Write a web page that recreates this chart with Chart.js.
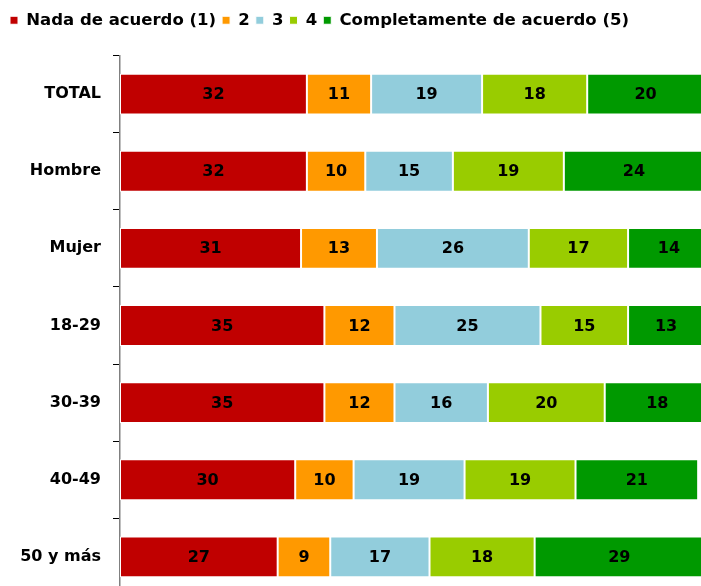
<!DOCTYPE html>
<html>
<head>
<meta charset="utf-8">
<script src="https://cdn.jsdelivr.net/npm/chart.js@4/dist/chart.umd.min.js"></script>
<style>
  html, body { margin: 0; padding: 0; overflow: hidden; background: #ffffff; }
  canvas { display: block; }
</style>
</head>
<body>
<canvas id="c" width="710" height="617" style="width:710px;height:617px;"></canvas>
<script>
const categories = ["TOTAL", "Hombre", "Mujer", "18-29", "30-39", "40-49", "50 y más"];
const seriesNames = ["Nada de acuerdo (1)", "2", "3", "4", "Completamente de acuerdo (5)"];
const nada = [32, 32, 31, 35, 35, 30, 27];
const dos = [11, 10, 13, 12, 12, 10, 9];
const tres = [19, 15, 26, 25, 16, 19, 17];
const cuatro = [18, 19, 17, 15, 20, 19, 18];
const completamente = [20, 24, 14, 13, 18, 21, 29];
const colors = ["#C00000", "#FF9900", "#92CDDC", "#99CC00", "#009900"];

const FONT = "'DejaVu Sans', Verdana, sans-serif";
const seriesValues = [nada, dos, tres, cuatro, completamente];

const labelPlugin = {
  id: 'barLabels',
  afterDatasetsDraw(chart) {
    const ctx = chart.ctx;
    ctx.save();
    ctx.font = "bold 16px " + FONT;
    ctx.fillStyle = "#000000";
    ctx.textAlign = "center";
    ctx.textBaseline = "middle";
    chart.data.datasets.forEach((ds, i) => {
      const meta = chart.getDatasetMeta(i);
      meta.data.forEach((el, j) => {
        const cx = (el.x + el.base) / 2;
        ctx.fillText(String(ds.data[j]), cx, el.y + 1);
      });
    });
    ctx.restore();
  }
};

const legendSpace = {
  id: 'legendSpace',
  beforeInit(chart) {
    const orig = chart.legend.fit;
    chart.legend.fit = function () {
      orig.bind(chart.legend)();
      this.height += 17;
    };
  }
};

new Chart(document.getElementById('c'), {
  type: 'bar',
  data: {
    labels: categories,
    datasets: seriesValues.map((vals, i) => ({
      label: seriesNames[i],
      data: vals,
      backgroundColor: colors[i],
      borderColor: "#ffffff",
      borderWidth: 1,
      borderSkipped: false,
      barPercentage: 0.53,
      categoryPercentage: 1
    }))
  },
  options: {
    indexAxis: 'y',
    responsive: false,
    animation: false,
    layout: { padding: { left: 4, right: 6, top: 6, bottom: 6 } },
    scales: {
      x: {
        stacked: true,
        display: false,
        min: 0,
        max: 100
      },
      y: {
        stacked: true,
        afterFit(scale) { scale.width = 116; },
        grid: {
          display: true,
          drawOnChartArea: false,
          drawTicks: true,
          tickLength: 7,
          offset: true,
          color: "#000000"
        },
        border: { display: true, color: "#808080", width: 1.5 },
        ticks: {
          padding: 12,
          color: "#000000",
          font: { family: FONT, size: 16, weight: 'bold' }
        }
      }
    },
    plugins: {
      legend: {
        position: 'top',
        align: 'start',
        labels: {
          boxWidth: 8,
          boxHeight: 8,
          padding: 6,
          color: "#000000",
          font: { family: FONT, size: 16.5, weight: 'bold' }
        }
      },
      tooltip: { enabled: false }
    }
  },
  plugins: [labelPlugin, legendSpace]
});
</script>
</body>
</html>
